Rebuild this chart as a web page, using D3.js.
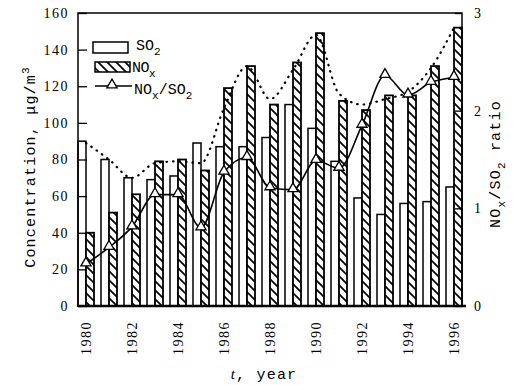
<html>
<head>
<style>
  body { margin: 0; background: #fff; }
  .tick text { font-family: 'Liberation Serif', serif; font-size: 14px; letter-spacing: 1.5px; }
  .lab { font-family: 'Liberation Mono', monospace; font-size: 15px; }
</style>
</head>
<body>
<script src="https://d3js.org/d3.v7.min.js"></script>
<script>

var years = [1980,1981,1982,1983,1984,1985,1986,1987,1988,1989,1990,1991,1992,1993,1994,1995,1996];
var so2 = [90,80,70,69,71,89,87,87,92,110,97,79,59,50,56,57,65];
var nox = [40,51,61,79,80,74,119,131,110,133,149,112,107,115,115,131,152];
var ratio = [0.43,0.6,0.81,1.14,1.14,0.8,1.37,1.52,1.21,1.19,1.49,1.41,1.85,2.36,2.16,2.29,2.34];
// dotted curve over the bars (not in legend)
var envelope = [89,80,70,78,79,78,108,131,113,129,148,116,110,113,117,130,152];
var concTicks = [0,20,40,60,80,100,120,140,160];
var ratioTicks = [0,1,2,3];
var yearTicks = [1980,1982,1984,1986,1988,1990,1992,1994,1996];

var width = 524, height = 385;
var pLeft = 78, pRight = 462, pTop = 13, pBottom = 306;

var svg = d3.select('body').append('svg')
  .attr('width', width)
  .attr('height', height);

var defs = svg.append('defs');
var pat = defs.append('pattern')
  .attr('id', 'hatch')
  .attr('patternUnits', 'userSpaceOnUse')
  .attr('width', 9).attr('height', 9);
pat.append('rect').attr('width', 9).attr('height', 9).attr('fill', '#fff');
pat.append('path')
  .attr('d', 'M-2,-2 L11,11 M-2,7 L2,11 M7,-2 L11,2')
  .attr('stroke', '#000').attr('stroke-width', 1.7);

var x = d3.scaleLinear().domain([1980, 1996]).range([86, 454]);
var y = d3.scaleLinear().domain([0, 160]).range([pBottom, pTop]);
var y2 = d3.scaleLinear().domain([0, 3]).range([pBottom, pTop]);
var bw = 8;

// bars
svg.selectAll('.so2')
  .data(years)
  .enter().append('rect')
  .attr('class', 'so2')
  .attr('x', function (d) { return x(d) - bw; })
  .attr('y', function (d, i) { return y(so2[i]); })
  .attr('width', bw)
  .attr('height', function (d, i) { return pBottom - y(so2[i]); })
  .attr('fill', '#fff').attr('stroke', '#000').attr('stroke-width', 1.5);

svg.selectAll('.nox')
  .data(years)
  .enter().append('rect')
  .attr('class', 'nox')
  .attr('x', function (d) { return x(d); })
  .attr('y', function (d, i) { return y(nox[i]); })
  .attr('width', bw)
  .attr('height', function (d, i) { return pBottom - y(nox[i]); })
  .attr('fill', 'url(#hatch)').attr('stroke', '#000').attr('stroke-width', 1.8);

// dotted line
var envLine = d3.line()
  .x(function (d, i) { return x(years[i]); })
  .y(function (d) { return y(d); })
  .curve(d3.curveMonotoneX);
svg.append('path')
  .datum(envelope)
  .attr('d', envLine)
  .attr('fill', 'none').attr('stroke', '#000')
  .attr('stroke-width', 2.2).attr('stroke-linecap', 'round')
  .attr('stroke-dasharray', '0.5,6');

// ratio line
var ratioLine = d3.line()
  .x(function (d, i) { return x(years[i]); })
  .y(function (d) { return y2(d); })
  .curve(d3.curveMonotoneX);
svg.append('path')
  .datum(ratio)
  .attr('d', ratioLine)
  .attr('fill', 'none').attr('stroke', '#000').attr('stroke-width', 1.6);

var tri = d3.symbol().type(d3.symbolTriangle).size(45);
svg.selectAll('.mk')
  .data(ratio)
  .enter().append('path')
  .attr('class', 'mk')
  .attr('d', tri)
  .attr('transform', function (d, i) { return 'translate(' + x(years[i]) + ',' + (y2(d) - 1) + ')'; })
  .attr('fill', '#fff').attr('stroke', '#000').attr('stroke-width', 1.3);

// frame
svg.append('rect')
  .attr('x', pLeft).attr('y', pTop)
  .attr('width', pRight - pLeft).attr('height', pBottom - pTop)
  .attr('fill', 'none').attr('stroke', '#000').attr('stroke-width', 1.5);
svg.append('line')
  .attr('x1', pLeft).attr('x2', pRight + 4)
  .attr('y1', pBottom).attr('y2', pBottom)
  .attr('stroke', '#000').attr('stroke-width', 2.5);

// axes
var yAxis = d3.axisLeft(y).tickValues(concTicks).tickSize(-9).tickPadding(9);
var gy = svg.append('g').attr('transform', 'translate(' + pLeft + ',0)').call(yAxis);
gy.select('.domain').remove();
gy.selectAll('.tick line').attr('stroke-width', 1.3);

var y2Axis = d3.axisRight(y2).tickValues(ratioTicks).tickFormat(d3.format('d')).tickSize(-7).tickPadding(12);
var gy2 = svg.append('g').attr('transform', 'translate(' + pRight + ',0)').call(y2Axis);
gy2.select('.domain').remove();
gy2.selectAll('.tick line').attr('stroke-width', 1.3);

var xAxis = d3.axisBottom(x).tickValues(yearTicks).tickFormat(d3.format('d')).tickSize(0);
var gx = svg.append('g').attr('transform', 'translate(0,' + pBottom + ')').call(xAxis);
gx.select('.domain').remove();
gx.selectAll('.tick text')
  .attr('transform', 'rotate(-90)')
  .attr('x', -15).attr('y', 0).attr('dy', '0.35em')
  .style('text-anchor', 'end');

// axis titles
svg.append('text')
  .attr('class', 'lab')
  .attr('transform', 'translate(35,167) rotate(-90)')
  .attr('text-anchor', 'middle')
  .style('letter-spacing', '1.2px')
  .html('Concentration,  \u03bcg/m<tspan dy="-6" font-size="11">3</tspan>');

var rt = svg.append('text')
  .attr('class', 'lab')
  .attr('transform', 'translate(500,164) rotate(-90)')
  .attr('text-anchor', 'middle')
  .style('letter-spacing', '1.2px');
rt.append('tspan').text('NO');
rt.append('tspan').attr('dy', 5).attr('font-size', 11).text('x');
rt.append('tspan').attr('dy', -5).text('/SO');
rt.append('tspan').attr('dy', 5).attr('font-size', 11).text('2');
rt.append('tspan').attr('dy', -5).text(' ratio');

var xt = svg.append('text')
  .attr('class', 'lab')
  .attr('x', 264).attr('y', 379)
  .attr('text-anchor', 'middle')
  .style('letter-spacing', '1.2px');
xt.append('tspan').attr('font-style', 'italic').attr('font-family', 'Liberation Serif').text('t');
xt.append('tspan').text(',  year');

// legend
var lg = svg.append('g');
lg.append('rect').attr('x', 93).attr('y', 42).attr('width', 35).attr('height', 11)
  .attr('fill', '#fff').attr('stroke', '#000').attr('stroke-width', 1.5);
lg.append('rect').attr('x', 95).attr('y', 62).attr('width', 35).attr('height', 10)
  .attr('fill', 'url(#hatch)').attr('stroke', '#000').attr('stroke-width', 1.5);
lg.append('line').attr('x1', 95).attr('x2', 132).attr('y1', 86).attr('y2', 86)
  .attr('stroke', '#000').attr('stroke-width', 1.6);
lg.append('path').attr('d', tri).attr('transform', 'translate(112,85)')
  .attr('fill', '#fff').attr('stroke', '#000').attr('stroke-width', 1.3);

function sub(t, parts) {
  parts.forEach(function (p) {
    t.append('tspan').attr('dy', p[1]).attr('font-size', p[1] > 0 ? 11 : null).text(p[0]);
  });
}
var l1 = lg.append('text').attr('class', 'lab').attr('x', 136).attr('y', 50);
sub(l1, [['SO', 0], ['2', 5]]);
var l2 = lg.append('text').attr('class', 'lab').attr('x', 132).attr('y', 72).style('letter-spacing', '-0.5px');
sub(l2, [['NO', 0], ['x', 5]]);
var l3 = lg.append('text').attr('class', 'lab').attr('x', 134).attr('y', 94);
sub(l3, [['NO', 0], ['x', 5], ['/SO', -5], ['2', 5]]);

</script>
</body>
</html>
